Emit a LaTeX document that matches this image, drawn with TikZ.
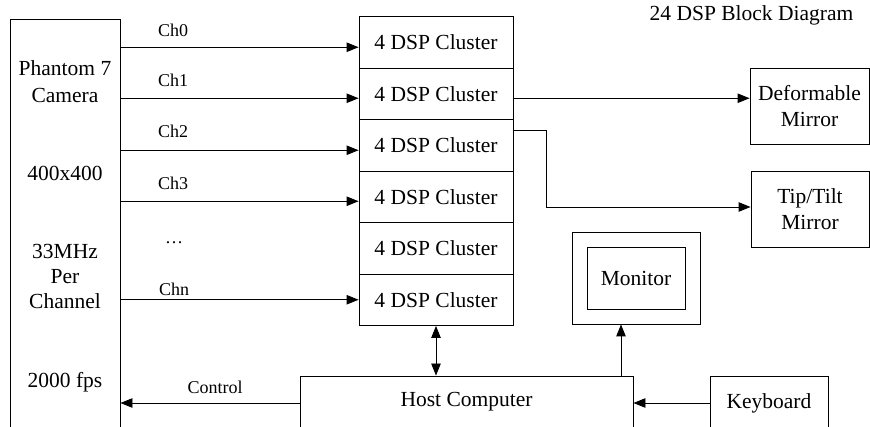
\documentclass[tikz,border=0pt]{standalone}
\usepackage{fontspec}
\setmainfont{Liberation Serif}
\usetikzlibrary{arrows.meta}
\begin{document}
\begin{tikzpicture}[x=1pt,y=-1pt,
  box/.style={draw,line width=0.9pt,inner sep=0pt,font=\fontsize{21.5}{24}\selectfont},
  txt/.style={inner sep=0pt,font=\fontsize{21.5}{24}\selectfont},
  lbl/.style={inner sep=0pt,font=\fontsize{18}{20}\selectfont},
  arr/.style={line width=0.9pt,-{Triangle[length=12pt,width=9.5pt]}},
  darr/.style={line width=0.9pt,{Triangle[length=12pt,width=9.5pt]}-{Triangle[length=12pt,width=9.5pt]}}]
\useasboundingbox (0,0) rectangle (870,427);
% camera
\node[box,minimum width=110pt,minimum height=421pt] (cam) at (65,229.5) {};
\node[txt] (t1) at (65,68) {Phantom 7};
\node[txt] (t2) at (65,95) {Camera};
\node[txt] (t3) at (65,173) {400x400};
\node[txt] (t4) at (65,251) {33MHz};
\node[txt] (t5) at (65,277) {Per};
\node[txt] (t6) at (65,301) {Channel};
\node[txt] (t7) at (65,382) {2000 fps};
% clusters
\foreach \i in {0,...,5}{
  \node[box,minimum width=154pt,minimum height=51.5pt] (c\i) at (436,42.25+51.5*\i) {4 DSP Cluster};
}
% title
\node[txt] (title) at (751.5,15) {24 DSP Block Diagram};
% mirrors
\node[box,minimum width=119pt,minimum height=76pt,align=center] (dm) at (809.5,106) {Deformable\\[2pt]Mirror};
\node[box,minimum width=118pt,minimum height=76pt,align=center] (tt) at (810,209) {Tip/Tilt\\[2pt]Mirror};
% monitor
\node[box,minimum width=128pt,minimum height=92pt] (monout) at (636,278) {};
\node[box,minimum width=98pt,minimum height=62pt] (monin) at (636,278) {Monitor};
% host and keyboard
\node[box,minimum width=333pt,minimum height=54pt] (host) at (466.5,403) {};
\node[txt] (hosttxt) at (466.5,402) {Host Computer};
\node[box,minimum width=118pt,minimum height=54pt] (kb) at (769,403) {Keyboard};
% channel arrows
\draw[arr] ([yshift=-5pt]cam.east |- c0.west) -- ([yshift=-5pt]c0.west);
\draw[arr] ([yshift=-4.5pt]cam.east |- c1.west) -- ([yshift=-4.5pt]c1.west);
\draw[arr] ([yshift=-5pt]cam.east |- c2.west) -- ([yshift=-5pt]c2.west);
\draw[arr] ([yshift=-4.5pt]cam.east |- c3.west) -- ([yshift=-4.5pt]c3.west);
\draw[arr] (cam.east |- c5.west) -- (c5.west);
\node[lbl,anchor=west] (l0) at (158,30) {Ch0};
\node[lbl,anchor=west] (l1) at (158,80) {Ch1};
\node[lbl,anchor=west] (l2) at (158,131) {Ch2};
\node[lbl,anchor=west] (l3) at (158,183) {Ch3};
\node[lbl] (l4) at (174,243) {\dots};
\node[lbl,anchor=west] (l5) at (159,289) {Chn};
% outputs
\draw[arr] ([yshift=-4.5pt]c1.east) -- ([yshift=-4.5pt]c1.east -| dm.west);
\draw[arr] ([yshift=15pt]c2.east) -- ++(33,0) |- ([yshift=2pt]tt.west);
% host links
\draw[darr] (c5.south) -- (c5.south |- host.north);
\draw[arr] ([xshift=-15pt]monout.south |- host.north) -- ([xshift=-15pt]monout.south);
\draw[arr] (kb.west) -- (kb.west -| host.east);
\draw[arr] (host.west) -- (host.west -| cam.east);
\node[lbl] (ctl) at (215,387) {Control};
\end{tikzpicture}
\end{document}
